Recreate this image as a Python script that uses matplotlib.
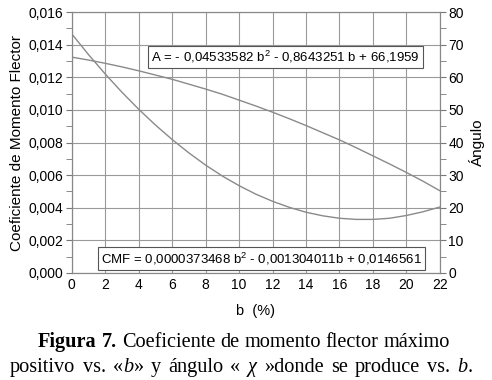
import matplotlib
matplotlib.use("Agg")
import matplotlib.pyplot as plt
import numpy as np

# valores
b = [0, 1, 2, 3, 4, 5, 6, 7, 8, 9, 10, 11, 12, 13, 14, 15, 16, 17, 18, 19, 20, 21, 22]
cmf = [0.01466, 0.01339, 0.01220, 0.01108, 0.01004, 0.00907, 0.00818, 0.00736, 0.00661,
       0.00594, 0.00535, 0.00483, 0.00439, 0.00402, 0.00372, 0.00350, 0.00335, 0.00328,
       0.00328, 0.00335, 0.00352, 0.00375, 0.00404]
angulo = [66.2, 65.3, 64.3, 63.2, 62.0, 60.7, 59.4, 57.9, 56.4, 54.8, 53.0, 51.2, 49.3,
          47.3, 45.2, 43.0, 40.8, 38.4, 35.9, 33.4, 30.8, 28.1, 25.2]

ec_a = "A = - 0,04533582 b$^2$ - 0,8643251 b + 66,1959"
ec_cmf = "CMF = 0,0000373468 b$^2$ - 0,001304011b + 0,0146561"

plt.rcParams['font.family'] = ['Liberation Sans', 'DejaVu Sans']
plt.rcParams['mathtext.fontset'] = 'custom'
plt.rcParams['mathtext.rm'] = 'Liberation Sans'

fig = plt.figure(figsize=(4.92, 3.80), dpi=100)
ax = fig.add_axes([0.146, 0.282, 0.748, 0.686])
ax2 = ax.twinx()

gris = '#8a8a8a'
ax.plot(b, cmf, color=gris, lw=1.0)
ax2.plot(b, angulo, color=gris, lw=1.0)

ax.set_xlim(0, 22)
ax.set_ylim(0, 0.016)
ax2.set_ylim(0, 80)
ax.set_xticks(np.arange(0, 23, 2))
ax.set_yticks(np.arange(0, 0.0161, 0.002))
ax.set_yticks(np.arange(0.001, 0.016, 0.002), minor=True)
ax2.set_yticks(np.arange(0, 81, 10))
ax2.set_yticks(np.arange(5, 80, 10), minor=True)
ax.set_yticklabels([f"{v:.3f}".replace('.', ',') for v in np.arange(0, 0.0161, 0.002)])
ax.grid(True, color='#9a9a9a', lw=0.8)
ax.tick_params(axis='x', length=0, labelsize=10, pad=4)
ax.tick_params(axis='y', which='both', length=4, color='#777777', labelsize=10, pad=2)
ax2.tick_params(axis='y', which='both', length=4, color='#777777', labelsize=10, pad=2)
for a in (ax, ax2):
    for s in a.spines.values():
        s.set_color('#888888')
        s.set_linewidth(0.8)

ax.set_xlabel("b  (%)", fontsize=10.5, labelpad=8)
ax.set_ylabel("Coeficiente de Momento Flector", fontsize=11, labelpad=3)
ax2.set_ylabel("Ángulo", fontsize=11, labelpad=4)

caja = dict(boxstyle='square,pad=0.25', fc='white', ec='#555555', lw=0.8)
ax.text(0.58, 0.828, ec_a, transform=ax.transAxes, ha='center', va='center',
        fontsize=9.5, bbox=caja)
ax.text(0.515, 0.055, ec_cmf, transform=ax.transAxes, ha='center', va='center',
        fontsize=9.5, bbox=caja)

# pie de figura justificado, con estilos mezclados
def linea(palabras, y, x0, x1):
    r = fig.canvas.get_renderer()
    grupos = []
    for palabra in palabras:
        ts = []
        for s, w, st in palabra:
            ts.append(fig.text(0, y, s, family='Liberation Serif', fontsize=14.6,
                               weight=w, style=st, va='baseline'))
        anchos = [t.get_window_extent(r).width for t in ts]
        grupos.append((ts, anchos))
    total = sum(sum(a) for _, a in grupos)
    hueco = (x1 - x0 - total) / (len(grupos) - 1)
    x = x0
    for ts, anchos in grupos:
        for t, w in zip(ts, anchos):
            t.set_x(x / fig.bbox.width)
            x += w
        x += hueco

fig.canvas.draw()
N, I, B = ('normal', 'normal'), ('normal', 'italic'), ('bold', 'normal')
linea([[("Figura", *B)], [("7.", *B)], [("Coeficiente", *N)], [("de", *N)],
       [("momento", *N)], [("flector", *N)], [("máximo", *N)]], 0.088, 38, 450)
linea([[("positivo", *N)], [("vs.", *N)], [("«", *N), ("b", *I), ("»", *N)],
       [("y", *N)], [("ángulo", *N)], [("«", *N)], [("χ", *I)],
       [("»donde", *N)], [("se", *N)], [("produce", *N)], [("vs.", *N)],
       [("b", *I), (".", *N)]], 0.022, 10, 473)

fig.savefig("out.png", dpi=100)
